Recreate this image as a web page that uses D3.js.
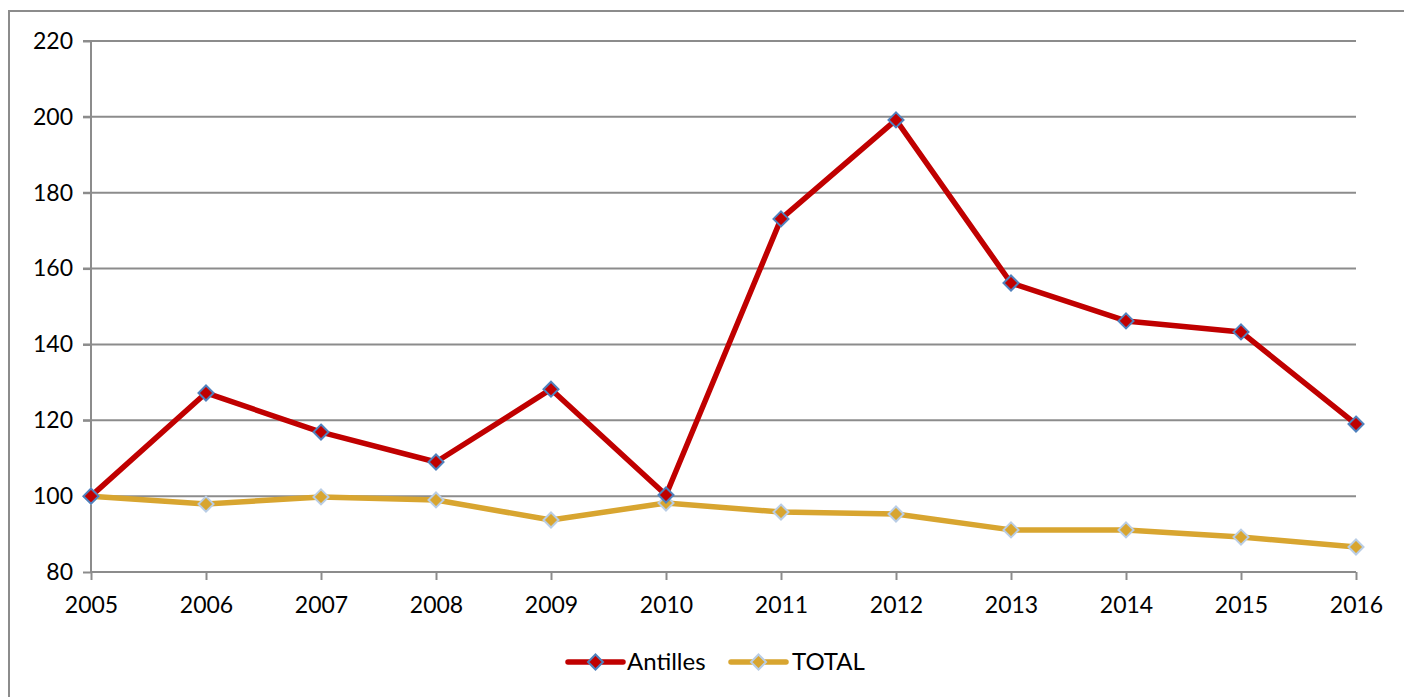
<!DOCTYPE html>
<html><head><meta charset="utf-8">
<script src="https://cdn.jsdelivr.net/npm/d3@7"></script>
<style>body{margin:0;background:#fff}svg{display:block}text{font-family:Lato,"Open Sans",sans-serif;fill:#000}</style>
</head><body><svg id="c" width="1404" height="697"></svg>
<script>
const years = [2005,2006,2007,2008,2009,2010,2011,2012,2013,2014,2015,2016];
const antilles = [100,127.2,116.9,109,128.2,100.3,173.1,199.2,156.2,146.2,143.3,119];
const total = [100,97.9,99.8,99,93.7,98.2,95.8,95.3,91.1,91.1,89.2,86.6];
const yTicks = [80,100,120,140,160,180,200,220];
const seriesNames = ["Antilles","TOTAL"];

const svg = d3.select("#c");
svg.append("rect").attr("x",9).attr("y",11).attr("width",1400).attr("height",700)
  .attr("fill","none").attr("stroke","#8c8c8c").attr("stroke-width",2);

const x = d3.scalePoint().domain(years).range([91,1356]);
const y = d3.scaleLinear().domain([80,220]).range([572,41]);

svg.append("g").selectAll("line").data(yTicks.filter(d=>d>80)).join("line")
  .attr("x1",83).attr("x2",1356).attr("y1",d=>y(d)).attr("y2",d=>y(d))
  .attr("stroke","#8c8c8c").attr("stroke-width",2);

const ya = svg.append("g").attr("transform","translate(91,0)")
  .call(d3.axisLeft(y).tickValues(yTicks).tickSize(8).tickPadding(10));
ya.select(".domain").attr("stroke","#8c8c8c").attr("stroke-width",2).attr("d","M0,"+y(220)+"V"+y(80));
ya.selectAll(".tick line").attr("stroke","#8c8c8c").attr("stroke-width",2);
ya.selectAll("text").attr("font-size",23).attr("font-family","Lato").attr("fill","#000");

const xa = svg.append("g").attr("transform","translate(0,572)")
  .call(d3.axisBottom(x).tickSize(8).tickPadding(17).tickFormat(d3.format("d")));
xa.select(".domain").attr("stroke","#8c8c8c").attr("stroke-width",2).attr("d","M91,0H1356");
xa.selectAll(".tick line").attr("stroke","#8c8c8c").attr("stroke-width",2);
xa.selectAll("text").attr("font-size",23).attr("font-family","Lato").attr("fill","#000");

const series = [
  {name:seriesNames[0], vals:antilles, color:"#C00000", mstroke:"#4F81BD"},
  {name:seriesNames[1], vals:total, color:"#D8A530", mstroke:"#B9CDE5"}
];
const line = d3.line().x((d,i)=>x(years[i])).y(d=>y(d));
const diamond = (cx,cy,r)=>`M${cx},${cy-r}L${cx+r},${cy}L${cx},${cy+r}L${cx-r},${cy}Z`;

[series[1],series[0]].forEach(s=>{
  svg.append("path").attr("d",line(s.vals)).attr("fill","none")
    .attr("stroke",s.color).attr("stroke-width",5.5).attr("stroke-linejoin","round");
});
[series[1],series[0]].forEach(s=>{
  svg.append("g").selectAll("path").data(s.vals).join("path")
    .attr("d",(d,i)=>diamond(x(years[i]),y(d),7.5))
    .attr("fill",s.color).attr("stroke",s.mstroke).attr("stroke-width",2);
});

const lg = svg.append("g");
const legendPos = [{x1:568,x2:623,tx:627},{x1:731,x2:786,tx:792}];
series.forEach((s,i)=>{
  const p = legendPos[i];
  lg.append("line").attr("x1",p.x1).attr("x2",p.x2).attr("y1",662).attr("y2",662)
    .attr("stroke",s.color).attr("stroke-width",5.5).attr("stroke-linecap","round");
  lg.append("path").attr("d",diamond((p.x1+p.x2)/2,662,7.5))
    .attr("fill",s.color).attr("stroke",s.mstroke).attr("stroke-width",2);
  lg.append("text").attr("x",p.tx).attr("y",670).attr("font-size",24).text(s.name);
});
</script></body></html>
